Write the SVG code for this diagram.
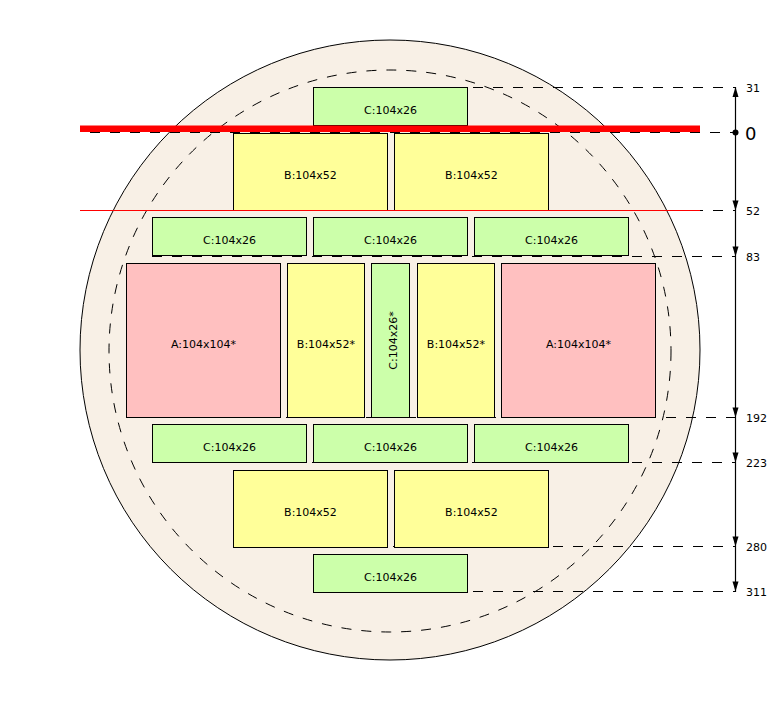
<svg xmlns="http://www.w3.org/2000/svg" width="781" height="701" viewBox="0 0 781 701">
<style>
.lbl{font-family:"DejaVu Sans","Liberation Sans",sans-serif;font-size:11px;fill:#000;text-anchor:middle}
.dim{font-family:"DejaVu Sans","Liberation Sans",sans-serif;font-size:11px;fill:#000}
.box{stroke:#000;stroke-width:1}
.a{fill:#ffc0c0}
.b{fill:#ffff99}
.c{fill:#ccffaa}
.dash{stroke:#000;stroke-width:1;stroke-dasharray:10,10;fill:none}
.arr{fill:#000}
</style>
<rect width="781" height="701" fill="#fff"/>
<g id="wafer">
<circle cx="390" cy="350" r="310" fill="#f8f0e6" stroke="#000" stroke-width="1"/>
<circle cx="390" cy="351" r="281" class="dash"/>
</g>
<g id="guides">
<line x1="313" y1="87.5" x2="735" y2="87.5" class="dash"/>
<line x1="233" y1="210.5" x2="735" y2="210.5" class="dash"/>
<line x1="152" y1="256.5" x2="735" y2="256.5" class="dash"/>
<line x1="126" y1="417.5" x2="735" y2="417.5" class="dash"/>
<line x1="152" y1="462.5" x2="735" y2="462.5" class="dash"/>
<line x1="233" y1="546.5" x2="735" y2="546.5" class="dash"/>
<line x1="313" y1="591.5" x2="735" y2="591.5" class="dash"/>
</g>
<g id="n-c-top"><rect class="box c" x="313.5" y="87.5" width="154" height="38"/><text class="lbl" x="390.5" y="113.5">C:104x26</text></g>
<g id="n-b1"><rect class="box b" x="233.5" y="133.5" width="154" height="77"/><text class="lbl" x="310.5" y="179">B:104x52</text></g>
<g id="n-b2"><rect class="box b" x="394.5" y="133.5" width="154" height="77"/><text class="lbl" x="471.5" y="179">B:104x52</text></g>
<g id="n-c2a"><rect class="box c" x="152.5" y="217.5" width="154" height="38"/><text class="lbl" x="229.5" y="243.5">C:104x26</text></g>
<g id="n-c2b"><rect class="box c" x="313.5" y="217.5" width="154" height="38"/><text class="lbl" x="390.5" y="243.5">C:104x26</text></g>
<g id="n-c2c"><rect class="box c" x="474.5" y="217.5" width="154" height="38"/><text class="lbl" x="551.5" y="243.5">C:104x26</text></g>
<g id="n-a1"><rect class="box a" x="126.5" y="263.5" width="154" height="154"/><text class="lbl" x="203.5" y="347.5">A:104x104*</text></g>
<g id="n-bt1"><rect class="box b" x="287.5" y="263.5" width="77" height="154"/><text class="lbl" x="326" y="347.5">B:104x52*</text></g>
<g id="n-ct"><rect class="box c" x="371.5" y="263.5" width="38" height="154"/><text class="lbl" transform="translate(397,340.5) rotate(-90)" x="0" y="0">C:104x26*</text></g>
<g id="n-bt2"><rect class="box b" x="417.5" y="263.5" width="77" height="154"/><text class="lbl" x="456" y="347.5">B:104x52*</text></g>
<g id="n-a2"><rect class="box a" x="501.5" y="263.5" width="154" height="154"/><text class="lbl" x="578.5" y="347.5">A:104x104*</text></g>
<g id="n-c4a"><rect class="box c" x="152.5" y="424.5" width="154" height="38"/><text class="lbl" x="229.5" y="450.5">C:104x26</text></g>
<g id="n-c4b"><rect class="box c" x="313.5" y="424.5" width="154" height="38"/><text class="lbl" x="390.5" y="450.5">C:104x26</text></g>
<g id="n-c4c"><rect class="box c" x="474.5" y="424.5" width="154" height="38"/><text class="lbl" x="551.5" y="450.5">C:104x26</text></g>
<g id="n-b5a"><rect class="box b" x="233.5" y="470.5" width="154" height="77"/><text class="lbl" x="310.5" y="516">B:104x52</text></g>
<g id="n-b5b"><rect class="box b" x="394.5" y="470.5" width="154" height="77"/><text class="lbl" x="471.5" y="516">B:104x52</text></g>
<g id="n-c-bot"><rect class="box c" x="313.5" y="554.5" width="154" height="38"/><text class="lbl" x="390.5" y="580.5">C:104x26</text></g>
<g id="red-lines">
<rect x="80" y="125.5" width="620" height="6.5" fill="#ff0000"/>
<line x1="80" y1="210.5" x2="700" y2="210.5" stroke="#ff0000" stroke-width="1"/>
</g>
<g id="zero-guide">
<line x1="90" y1="132.5" x2="735" y2="132.5" class="dash"/>
</g>
<g id="connectors">
<line x1="735.5" y1="87" x2="735.5" y2="592" stroke="#000" stroke-width="1.2"/>
<polygon class="arr" points="735.5,87 732.5,97 738.5,97"/>
<circle class="arr" cx="735.5" cy="132.5" r="3"/>
<polygon class="arr" points="735.5,210.5 732.5,200.5 738.5,200.5"/>
<polygon class="arr" points="735.5,256.5 732.5,246.5 738.5,246.5"/>
<polygon class="arr" points="735.5,417.5 732.5,407.5 738.5,407.5"/>
<polygon class="arr" points="735.5,462.5 732.5,452.5 738.5,452.5"/>
<polygon class="arr" points="735.5,546.5 732.5,536.5 738.5,536.5"/>
<polygon class="arr" points="735.5,591.5 732.5,581.5 738.5,581.5"/>
</g>
<g id="dim-labels">
<text class="dim" x="746" y="91.5">31</text>
<text class="dim" x="745" y="140" style="font-size:18px">0</text>
<text class="dim" x="746" y="214.5">52</text>
<text class="dim" x="746" y="260.5">83</text>
<text class="dim" x="746" y="421.5">192</text>
<text class="dim" x="746" y="466.5">223</text>
<text class="dim" x="746" y="550.5">280</text>
<text class="dim" x="746" y="595.5">311</text>
</g>
</svg>
